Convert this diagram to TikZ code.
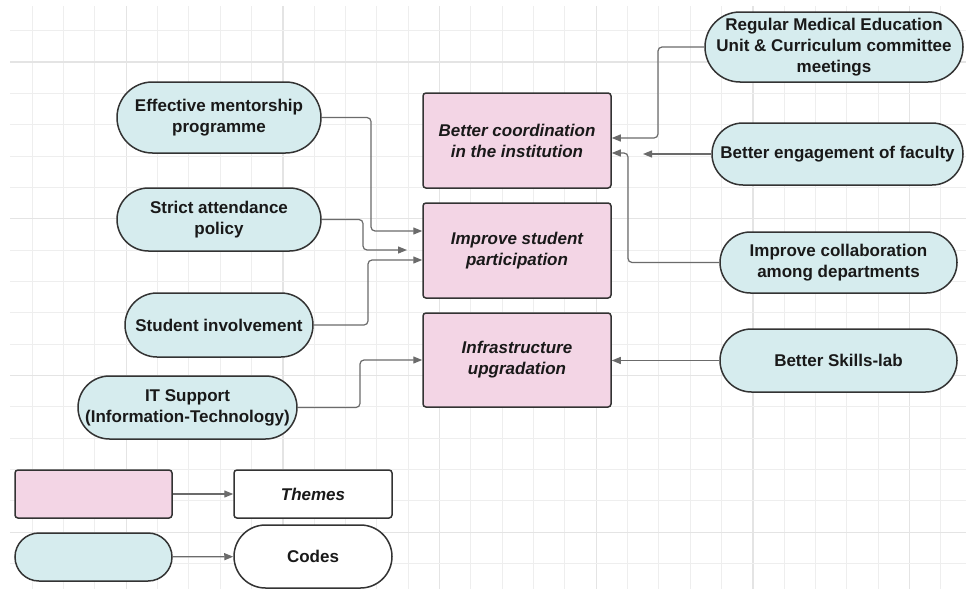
\documentclass[tikz,border=0pt]{standalone}
\usepackage{fontspec}
\setmainfont{Liberation Sans}
\usetikzlibrary{arrows.meta}
\definecolor{cyanf}{HTML}{D6ECEE}
\definecolor{pinkf}{HTML}{F3D5E5}
\definecolor{bordc}{HTML}{333333}
\definecolor{connc}{HTML}{6B6B6B}
\definecolor{gridminor}{HTML}{EEEEEE}
\definecolor{gridmajor}{HTML}{E4E4E4}
\tikzset{
  codebox/.style={draw=bordc, fill=cyanf, line width=1.5pt, align=center, inner sep=0pt,
    font=\bfseries\fontsize{17}{21}\selectfont, text=black!90},
  themebox/.style={draw=bordc, fill=pinkf, line width=1.5pt, align=center, inner sep=0pt,
    rounded corners=3pt, font=\bfseries\itshape\fontsize{17}{21}\selectfont, text=black!90},
  conn/.style={draw=connc, line width=1.2pt, rounded corners=4pt,
    -{Triangle[length=9pt,width=7pt]}},
  gminor/.style={draw=gridminor, line width=1pt},
  gmajor/.style={draw=gridmajor, line width=1.2pt}
}
\begin{document}
\begin{tikzpicture}[x=1pt,y=-1pt]
\useasboundingbox[fill=white] (0,0) rectangle (966,589);
% grid
\foreach \i in {1,...,30}{
  \pgfmathsetmacro\xx{1+31.33*\i}
  \pgfmathtruncatemacro\m{mod(\i,5)}
  \ifnum\m=4 \draw[gmajor] (\xx,6) -- (\xx,589); \else \draw[gminor] (\xx,6) -- (\xx,589); \fi
}
\foreach \i in {1,...,18}{
  \pgfmathsetmacro\yy{-0.7+31.35*\i}
  \pgfmathtruncatemacro\m{mod(\i,5)}
  \ifnum\m=2 \draw[gmajor] (10,\yy) -- (966,\yy); \else \draw[gminor] (10,\yy) -- (966,\yy); \fi
}
% left codes
\node[codebox, minimum width=204pt, minimum height=71pt, rounded corners=35.5pt] (em) at (219,117.5) {Effective mentorship\\programme};
\node[codebox, minimum width=204pt, minimum height=63pt, rounded corners=31.5pt] (sa) at (219,219.5) {Strict attendance\\policy};
\node[codebox, minimum width=188pt, minimum height=64pt, rounded corners=32pt] (si) at (219,325) {Student involvement};
\node[codebox, minimum width=219pt, minimum height=63pt, rounded corners=31.5pt] (it) at (187.5,407.5) {IT Support\\(Information-Technology)};
% right codes
\node[codebox, minimum width=258pt, minimum height=70pt, rounded corners=35pt] (rm) at (834,47) {Regular Medical Education\\Unit \& Curriculum committee\\meetings};
\node[codebox, minimum width=251pt, minimum height=62pt, rounded corners=31pt] (be) at (837.5,154) {Better engagement of faculty};
\node[codebox, minimum width=237pt, minimum height=61pt, rounded corners=30.5pt] (ic) at (838.5,262.5) {Improve collaboration\\among departments};
\node[codebox, minimum width=237pt, minimum height=63pt, rounded corners=31.5pt] (bs) at (838.5,360.5) {Better Skills-lab};
% themes
\node[themebox, minimum width=188pt, minimum height=95pt] (bc) at (517,140.5) {Better coordination\\in the institution};
\node[themebox, minimum width=188pt, minimum height=95pt] (ip) at (517,250.5) {Improve student\\participation};
\node[themebox, minimum width=188pt, minimum height=94pt] (iu) at (517,360) {Infrastructure\\upgradation};
% legend
\node[themebox, minimum width=157pt, minimum height=48pt] (lp) at (93.5,494) {};
\node[themebox, fill=white, minimum width=158pt, minimum height=48pt] (th) at (313,494) {Themes};
\node[codebox, minimum width=157pt, minimum height=48pt, rounded corners=24pt] (lc) at (93.5,557) {};
\node[codebox, fill=white, minimum width=158pt, minimum height=63pt, rounded corners=31.5pt] (co) at (313,556.5) {Codes};
% free ends
\coordinate (saend) at (407,250);
\coordinate (beend) at (643,154);
% connectors
\draw[conn] (em.east) -| (371,231) -- ([yshift=19.5pt]ip.west);
\draw[conn] (sa.east) -| (363,250) -- (saend);
\draw[conn] (si.east) -| (368,260) -- ([yshift=-9.5pt]ip.west);
\draw[conn] (it.east) -| (360,360) -- (iu.west);
\draw[conn] (rm.west) -| (658,138) -- ([yshift=2.5pt]bc.east);
\draw[conn] (be.west) -- (beend);
\draw[conn] (ic.west) -| (628,153) -- ([yshift=-12.5pt]bc.east);
\draw[conn] (bs.west) -- (bs.west -| iu.east);
\draw[conn] (lp) -- (th);
\draw[conn] (lc) -- (co);
\end{tikzpicture}
\end{document}
